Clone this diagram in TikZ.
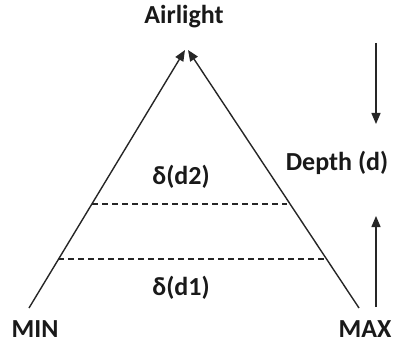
\documentclass[tikz,border=0pt]{standalone}
\usepackage{fontspec}
\setmainfont{Carlito}
\usetikzlibrary{arrows.meta}
\begin{document}
\begin{tikzpicture}[x=1pt,y=-1pt,
  lbl/.style={font=\fontsize{26}{30}\selectfont\bfseries, inner sep=0pt, text=black!90},
  edge/.style={line width=1.4pt, draw=black!85},
  arr/.style={edge, -{Triangle[length=11pt,width=9pt]}},
  dashline/.style={line width=1.2pt, draw=black!85, dash pattern=on 6pt off 4pt}]
\useasboundingbox (0,0) rectangle (397,345);
\coordinate (minend) at (29,308);
\coordinate (maxend) at (359,308);
\coordinate (apexL) at (185,50);
\coordinate (apexR) at (188,50);
\node[lbl] (air) at (184,17) {Airlight};
\node[lbl] (min) at (35,329) {MIN};
\node[lbl] (max) at (365,329) {MAX};
\node[lbl] (depth) at (337,163) {Depth (d)};
\node[lbl] (d2) at (181,177) {δ(d2)};
\node[lbl] (d1) at (181,288) {δ(d1)};
\draw[arr] (minend) -- (apexL);
\draw[arr] (maxend) -- (apexR);
\coordinate (u1) at (92,204);
\coordinate (u2) at (287,204);
\coordinate (l1) at (58,259);
\coordinate (l2) at (326,259);
\draw[dashline] (u1) -- (u2);
\draw[dashline] (l1) -- (l2);
\coordinate (dtop) at (376,43);
\coordinate (dbot) at (376,124);
\coordinate (ubot) at (376,307);
\coordinate (utop) at (376,216);
\draw[arr] (dtop) -- (dbot);
\draw[arr] (ubot) -- (utop);
\end{tikzpicture}
\end{document}
